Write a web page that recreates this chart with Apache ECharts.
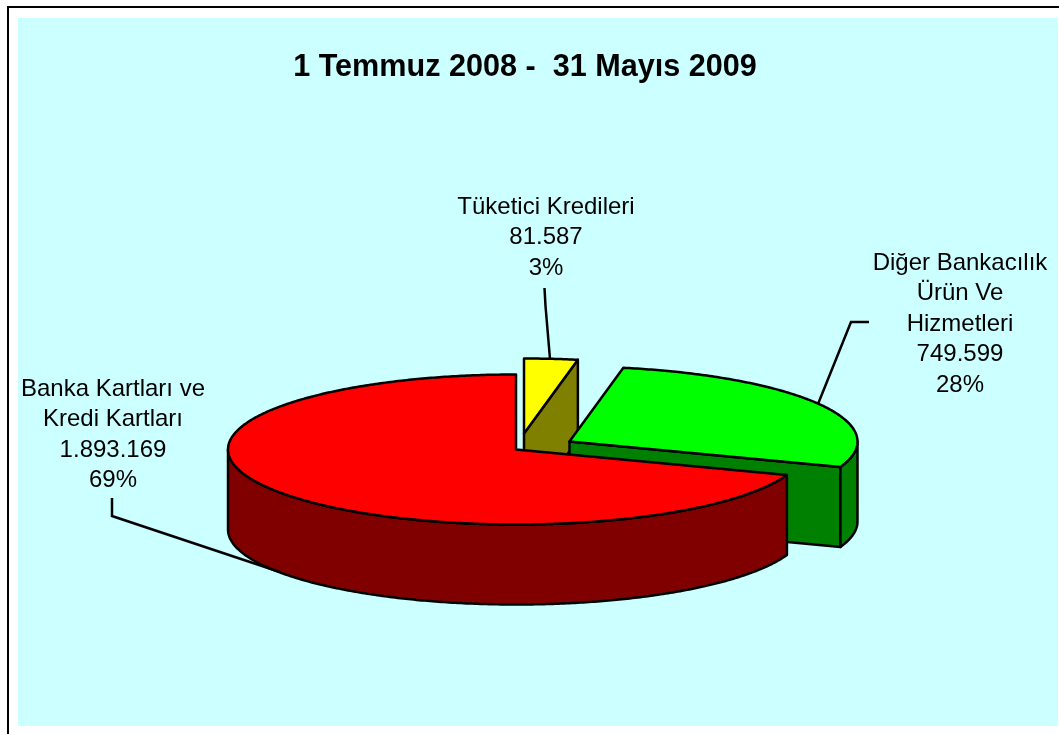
<!DOCTYPE html>
<html>
<head>
<meta charset="utf-8">
<style>html,body{margin:0;padding:0;background:#fff}#c{width:1059px;height:734px}</style>
<script src="https://cdn.jsdelivr.net/npm/echarts@6/dist/echarts.min.js"></script>
</head>
<body>
<div id="c"></div>
<script>
var titleText = '1 Temmuz 2008 -  31 Mayıs 2009';
var categories = ['Tüketici Kredileri', 'Diğer Bankacılık Ürün Ve Hizmetleri', 'Banka Kartları ve Kredi Kartları'];
var categoryLines = [['Tüketici Kredileri'], ['Diğer Bankacılık', 'Ürün Ve', 'Hizmetleri'], ['Banka Kartları ve', 'Kredi Kartları']];
var values = [81587, 749599, 1893169];
var valueLabels = ['81.587', '749.599', '1.893.169'];
var percentLabels = ['3%', '28%', '69%'];
var topColors = ['#FFFF00', '#00FF00', '#FF0000'];
var sideColors = ['#808000', '#008000', '#800000'];

// layout of the drawing (pixels), kept apart from the data
var pie = { cx: 516, cy: 449.5, rx: 288, ry: 75, depth: 80 };
var explodeOffsets = [[8, -16], [53.5, -8], [0, 0]];
var labelCenters = [[546, 207], [960, 263], [113, 389]];
var labelLineHeight = 30.5;
var leaders = [
  [[544.5, 288], [545.5, 306], [550, 359]],
  [[869, 322], [851, 322], [818, 404]],
  [[112, 498], [112, 516], [280, 572]]
];
var outlineWidth = 2.5;

var total = values.reduce(function (a, b) { return a + b; }, 0);
function angleAt(i) {
  var s = 0;
  for (var k = 0; k < i; k++) { s += values[k]; }
  return s / total * Math.PI * 2;
}
function pt(c, a, dz) {
  return [c[0] + pie.rx * Math.sin(a), c[1] - pie.ry * Math.cos(a) + (dz || 0)];
}
function arc(c, a0, a1, dz) {
  var n = Math.max(2, Math.ceil((a1 - a0) / 0.01)), out = [];
  for (var i = 0; i <= n; i++) { out.push(pt(c, a0 + (a1 - a0) * i / n, dz)); }
  return out;
}
function shape(points, fill) {
  return { type: 'polygon', shape: { points: points },
    style: { fill: fill, stroke: '#000', lineWidth: outlineWidth, lineJoin: 'round' } };
}
function renderSlice(params, api) {
  var i = params.dataIndex;
  var a0 = angleAt(i);
  var a1 = a0 + api.value(0) / total * Math.PI * 2;
  var c = [pie.cx + explodeOffsets[i][0], pie.cy + explodeOffsets[i][1]];
  var kids = [];
  // cut face that looks at the viewer
  if (Math.sin(a1) > 0.001) {
    var e = pt(c, a1);
    kids.push(shape([c, e, [e[0], e[1] + pie.depth], [c[0], c[1] + pie.depth]], sideColors[i]));
  }
  // outer wall (front half only)
  var f0 = Math.max(a0, Math.PI / 2), f1 = Math.min(a1, Math.PI * 1.5);
  if (f1 > f0) {
    kids.push(shape(arc(c, f0, f1).concat(arc(c, f0, f1, pie.depth).reverse()), sideColors[i]));
  }
  // top face
  kids.push(shape([c].concat(arc(c, a0, a1)), topColors[i]));
  // leader line
  kids.push({ type: 'polyline', shape: { points: leaders[i] },
    style: { fill: null, stroke: '#000', lineWidth: outlineWidth } });
  // label
  var lines = categoryLines[i].concat([valueLabels[i], percentLabels[i]]);
  lines.forEach(function (t, k) {
    kids.push({ type: 'text', style: {
      text: t, x: labelCenters[i][0], y: labelCenters[i][1] + k * labelLineHeight,
      align: 'center', verticalAlign: 'middle',
      font: '24px "Liberation Sans", Arial, sans-serif', fill: '#000' } });
  });
  return { type: 'group', children: kids };
}

var chart = echarts.init(document.getElementById('c'), null, { renderer: 'canvas' });
chart.setOption({
  animation: false,
  backgroundColor: '#FFFFFF',
  title: {
    text: titleText, left: 520, top: 47.5, textAlign: 'center',
    textStyle: { fontFamily: '"Liberation Sans", Arial, sans-serif', fontWeight: 'bold', fontSize: 30.6, color: '#000' }
  },
  graphic: [
    { type: 'rect', z: -2, silent: true, shape: { x: 18, y: 18, width: 1040, height: 708 }, style: { fill: '#CCFFFF' } },
    { type: 'polyline', z: -1, silent: true, shape: { points: [[8, 734], [8, 7], [1059, 7]] },
      style: { fill: null, stroke: '#000', lineWidth: 2 } }
  ],
  series: [{
    type: 'custom',
    coordinateSystem: 'none',
    silent: true,
    renderItem: renderSlice,
    data: values.map(function (v, i) { return { name: categories[i], value: [v] }; })
  }]
});
</script>
</body>
</html>
